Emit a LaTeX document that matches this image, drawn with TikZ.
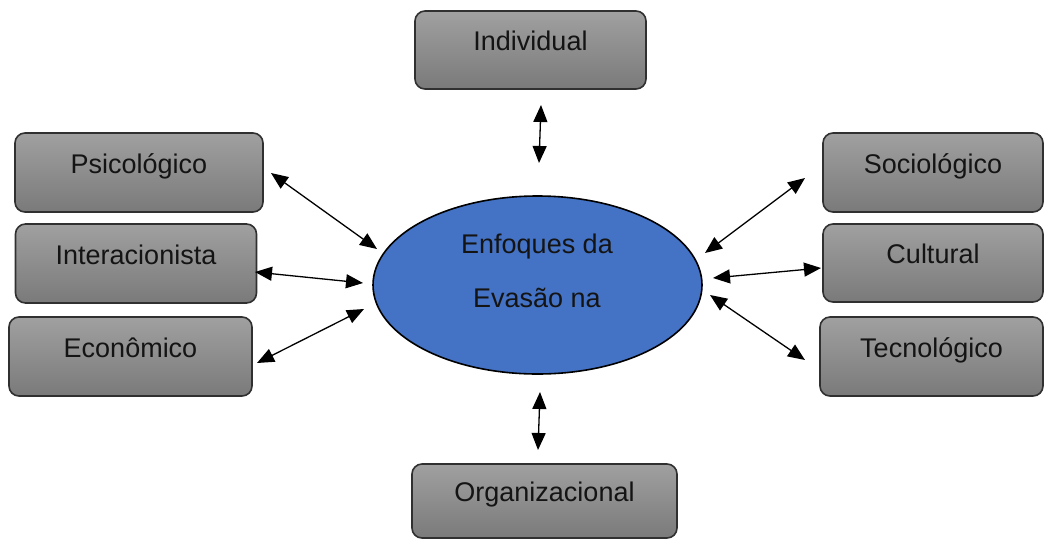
\documentclass[tikz,border=0pt]{standalone}
\usepackage{fontspec}
\setmainfont{Liberation Sans}
\usetikzlibrary{arrows.meta,shapes.geometric}
\definecolor{boxtop}{HTML}{A0A0A0}
\definecolor{boxbot}{HTML}{7A7A7A}
\definecolor{boxline}{HTML}{303030}
\definecolor{ellblue}{HTML}{4472C4}
\definecolor{txt}{HTML}{141414}
\tikzset{
  gbox/.style={draw=boxline, line width=1.6pt, rounded corners=10pt,
    top color=boxtop, bottom color=boxbot, text=txt,
    font=\fontsize{27}{30}\selectfont, text height=0.75em, text depth=0.57em,
    inner sep=0pt},
  link/.style={line width=1.3pt, {Triangle[length=17pt,width=14pt]}-{Triangle[length=17pt,width=14pt]}}
}
\begin{document}
\begin{tikzpicture}[x=1pt,y=-1pt]
\useasboundingbox (0,0) rectangle (1054,539);
% boxes
\node[gbox, minimum width=231pt, minimum height=78pt] (ind) at (530.5,50) {Individual};
\node[gbox, minimum width=248pt, minimum height=79pt] (psi) at (139,172.5) {Psicológico};
\node[gbox, minimum width=241pt, minimum height=79pt] (int) at (136,263.5) {Interacionista};
\node[gbox, minimum width=243pt, minimum height=79pt] (eco) at (130.5,356.5) {Econômico};
\node[gbox, minimum width=220pt, minimum height=79pt] (soc) at (933,172.5) {Sociológico};
\node[gbox, minimum width=220pt, minimum height=78pt] (cul) at (933,263) {Cultural};
\node[gbox, minimum width=223pt, minimum height=79pt] (tec) at (931.5,356.5) {Tecnológico};
\node[gbox, minimum width=265pt, minimum height=74pt] (org) at (544.5,501) {Organizacional};
% central ellipse
\node[ellipse, draw=black, line width=1.6pt, fill=ellblue, minimum width=329pt, minimum height=178pt, inner sep=0pt] (ell) at (537.5,285) {};
\node[align=center, text=txt, font=\fontsize{27}{54}\selectfont, inner sep=0pt] (etext) at (537,271) {Enfoques da\\Evasão na};
% arrow endpoints
\coordinate (a1) at (541,105); \coordinate (b1) at (539,163);
\coordinate (a2) at (271,173); \coordinate (b2) at (377,249);
\coordinate (a3) at (255,272); \coordinate (b3) at (363,283);
\coordinate (a4) at (257,363); \coordinate (b4) at (364,309);
\coordinate (a5) at (805,178); \coordinate (b5) at (705,253);
\coordinate (a6) at (821,268); \coordinate (b6) at (713,278);
\coordinate (a7) at (805,360); \coordinate (b7) at (710,295);
\coordinate (a8) at (540,392); \coordinate (b8) at (538,450);
\foreach \i in {1,...,8} {\draw[link] (a\i) -- (b\i);}
\end{tikzpicture}
\end{document}
